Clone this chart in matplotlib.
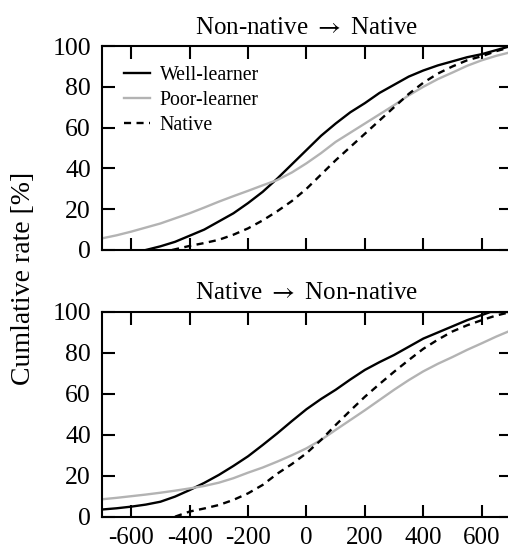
import matplotlib
matplotlib.use("Agg")
import matplotlib.pyplot as plt

# ==========================================
# Data
# ==========================================

# Top panel: Non-native -> Native
top_well_x = [-550, -500, -450, -400, -350, -300, -250, -200, -150, -100, -50, 0,
              50, 100, 150, 200, 250, 300, 350, 400, 450, 500, 550, 600, 650, 700]
top_well_y = [0, 1.8, 4, 7, 10, 14, 18, 23, 28.5, 35, 42, 49,
              56, 62, 67.5, 72, 77, 81, 85, 88, 90.5, 92.5, 94.5, 96, 98, 100]

top_poor_x = [-700, -650, -600, -550, -500, -450, -400, -350, -300, -250, -200, -150,
              -100, -50, 0, 50, 100, 150, 200, 250, 300, 350, 400, 450, 500, 550,
              600, 650, 700]
top_poor_y = [5.7, 7.2, 9, 11, 13, 15.5, 18, 20.8, 23.7, 26.4, 29, 31.7,
              34.3, 38, 42.5, 47.5, 53, 57.5, 62, 66.5, 71, 75.8, 80, 83.8, 87, 90.3,
              93, 95.2, 97]

top_native_x = [-460, -400, -350, -300, -250, -200, -150, -100, -50, 0, 50, 100,
                150, 200, 250, 300, 350, 400, 450, 500, 550, 600, 650, 700]
top_native_y = [0, 2, 3.4, 5, 7.5, 10.6, 14.5, 19, 24, 30, 37, 44,
                50.5, 57, 63.5, 70, 76.5, 82, 86.5, 90, 93, 95, 97.5, 99.5]

# Bottom panel: Native -> Non-native
bot_well_x = [-700, -650, -600, -550, -500, -450, -400, -350, -300, -250, -200, -150,
              -100, -50, 0, 50, 100, 150, 200, 250, 300, 350, 400, 450, 500, 550,
              600, 630, 700]
bot_well_y = [3.5, 4.1, 4.9, 5.9, 7.3, 9.8, 13, 16.5, 20.4, 24.8, 29.5, 35,
              40.7, 46.7, 52.5, 57.5, 62, 67, 71.7, 75.5, 79, 83, 87, 90, 93, 96,
              98.5, 100, 100]

bot_poor_x = [-700, -650, -600, -550, -500, -450, -400, -350, -300, -250, -200, -150,
              -100, -50, 0, 50, 100, 150, 200, 250, 300, 350, 400, 450, 500, 550,
              600, 650, 700]
bot_poor_y = [8.5, 9.2, 10, 10.8, 11.7, 12.7, 13.8, 15, 16.6, 18.8, 21.5, 24,
              26.9, 30, 33.4, 37.5, 42.4, 47.2, 52, 57, 62, 66.7, 71, 74.7, 78, 81.5,
              84.7, 88, 91]

bot_native_x = [-450, -400, -350, -300, -250, -200, -150, -100, -50, 0, 50, 100,
                150, 200, 250, 300, 350, 400, 450, 500, 550, 600, 650, 700]
bot_native_y = [0, 2.5, 4, 5.7, 8.2, 11.4, 15.5, 21, 25.7, 31, 37.5, 44.8,
                51.8, 58.6, 64.8, 70.8, 76.5, 82, 86.5, 90.5, 93.5, 96, 98.3, 100]

titles = [r"Non-native $\rightarrow$ Native", r"Native $\rightarrow$ Non-native"]
x_ticks = [-600, -400, -200, 0, 200, 400, 600]
y_ticks = [0, 20, 40, 60, 80, 100]

# ==========================================
# Style
# ==========================================

plt.rcParams["font.family"] = ["Liberation Serif", "DejaVu Serif"]
plt.rcParams["mathtext.fontset"] = "stix"
plt.rcParams["axes.unicode_minus"] = False

grey = "#b3b3b3"

fig = plt.figure(figsize=(5.08, 5.51), dpi=100)
ax_top = fig.add_axes([0.2008, 0.5463, 0.805, 0.3702])
ax_bot = fig.add_axes([0.2008, 0.0623, 0.805, 0.3715])

panels = [
    (ax_top, top_well_x, top_well_y, top_poor_x, top_poor_y, top_native_x, top_native_y),
    (ax_bot, bot_well_x, bot_well_y, bot_poor_x, bot_poor_y, bot_native_x, bot_native_y),
]

for i, (ax, wx, wy, px, py, nx, ny) in enumerate(panels):
    ax.plot(wx, wy, color="black", lw=1.7, label="Well-learner")
    ax.plot(px, py, color=grey, lw=1.7, label="Poor-learner")
    ax.plot(nx, ny, color="black", lw=1.7, dashes=(3.0, 2.3), label="Native")

    ax.set_xlim(-700, 700)
    ax.set_ylim(0, 100)
    ax.set_xticks(x_ticks)
    ax.set_yticks(y_ticks)
    ax.tick_params(direction="in", length=9, width=1.5,
                   top=True, right=True, labelsize=18.5)
    ax.tick_params(axis="y", pad=8)
    ax.tick_params(axis="x", pad=7.5, labelsize=18)
    for s in ax.spines.values():
        s.set_linewidth(1.5)
    ax.set_title(titles[i], fontsize=18, pad=9)

ax_top.set_xticklabels([])

ax_top.legend(loc="upper left", frameon=False, fontsize=14.3,
              handlelength=1.3, handletextpad=0.5, labelspacing=0.3,
              borderaxespad=0.3, bbox_to_anchor=(0.02, 0.97))

fig.text(0.047, 0.494, "Cumlative rate [%]", rotation=90,
         ha="center", va="center", fontsize=20)

fig.savefig("out.png", dpi=100)
